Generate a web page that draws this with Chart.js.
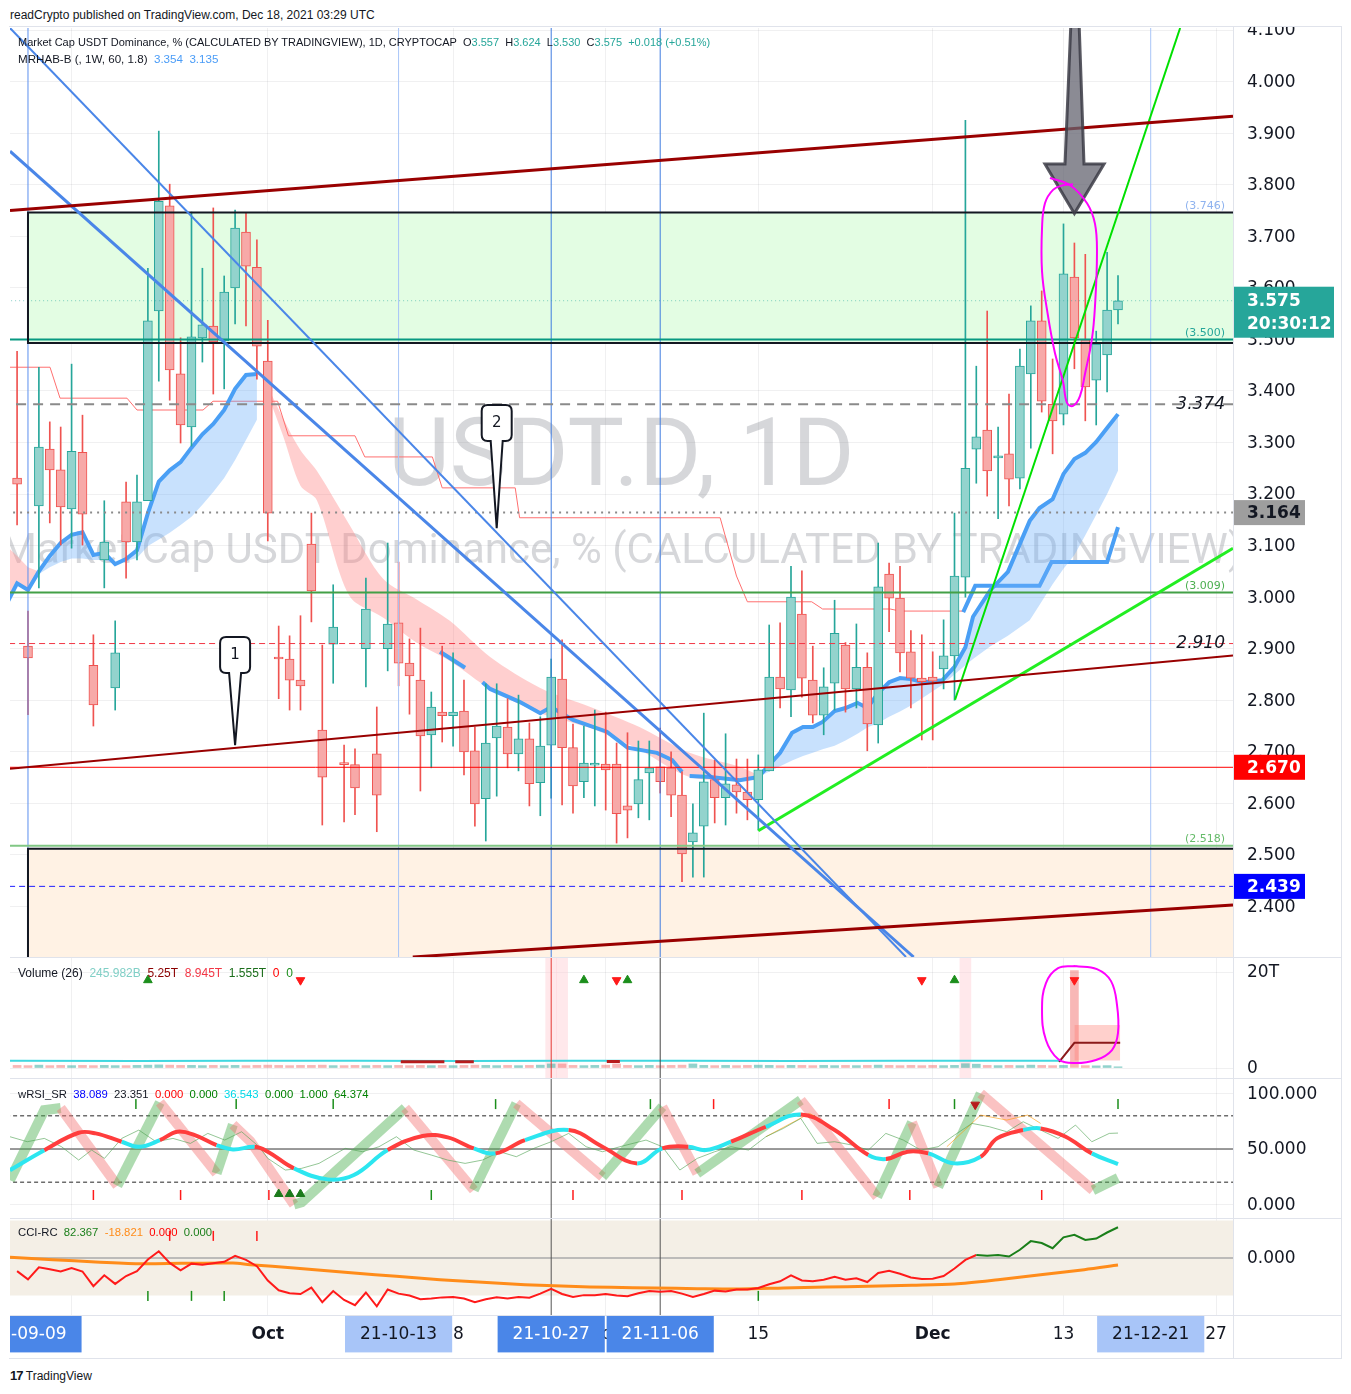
<!DOCTYPE html>
<html>
<head>
<meta charset="utf-8">
<title>USDT.D 1D</title>
<script src="https://cdn.jsdelivr.net/npm/chart.js@4.4.1/dist/chart.umd.min.js"></script>
<style>
html,body{margin:0;padding:0;background:#ffffff;}
body{width:1351px;height:1394px;position:relative;overflow:hidden;font-family:"Liberation Sans",Arial,sans-serif;color:#131722;}
canvas{position:absolute;left:10px;}
.t{position:absolute;white-space:nowrap;font-size:12px;line-height:14px;z-index:5;}
.sep{position:absolute;background:#e0e3eb;z-index:4;}
.g{color:#26a69a}.b{color:#4a9cf7}
</style>
</head>
<body>
<div class="t" style="left:10px;top:8px;">readCrypto published on TradingView.com, Dec 18, 2021 03:29 UTC</div>

<canvas id="cMain" width="1331" height="931" style="top:27px"></canvas>
<canvas id="cVol" width="1331" height="120" style="top:958px"></canvas>
<canvas id="cRsi" width="1331" height="140" style="top:1078px"></canvas>
<canvas id="cCci" width="1331" height="140" style="top:1218px"></canvas>

<div class="sep" style="left:9px;top:26px;width:1333px;height:1px"></div>
<div class="sep" style="left:1341px;top:26px;width:1px;height:1333px"></div>
<div class="sep" style="left:9px;top:1358px;width:1333px;height:1px"></div>
<div class="sep" style="left:1233px;top:27px;width:1px;height:1331px"></div>
<div class="sep" style="left:10px;top:957px;width:1331px;height:1px"></div>
<div class="sep" style="left:10px;top:1078px;width:1331px;height:1px"></div>
<div class="sep" style="left:10px;top:1218px;width:1331px;height:1px"></div>
<div class="sep" style="left:10px;top:1315px;width:1331px;height:1px"></div>

<div class="t" style="left:18px;top:35px;font-size:11px;">Market Cap USDT Dominance, % (CALCULATED BY TRADINGVIEW), 1D, CRYPTOCAP&nbsp;&nbsp;O<span class="g">3.557</span>&nbsp;&nbsp;H<span class="g">3.624</span>&nbsp;&nbsp;L<span class="g">3.530</span>&nbsp;&nbsp;C<span class="g">3.575</span>&nbsp;&nbsp;<span class="g">+0.018 (+0.51%)</span></div>
<div class="t" style="left:18px;top:52px;font-size:11.6px;">MRHAB-B (, 1W, 60, 1.8)&nbsp;&nbsp;<span class="b">3.354</span>&nbsp;&nbsp;<span class="b">3.135</span></div>
<div class="t" style="left:18px;top:966px;">Volume (26)&nbsp;&nbsp;<span style="color:#80cfc6">245.982B</span>&nbsp;&nbsp;<span style="color:#8b0000">5.25T</span>&nbsp;&nbsp;<span style="color:#f23645">8.945T</span>&nbsp;&nbsp;<span style="color:#1b6e1b">1.555T</span>&nbsp;&nbsp;<span style="color:#ff0000">0</span>&nbsp;&nbsp;<span style="color:#1b8e1b">0</span></div>
<div class="t" style="left:18px;top:1087px;font-size:11.3px;">wRSI_SR&nbsp;&nbsp;<span style="color:#0000ff">38.089</span>&nbsp;&nbsp;23.351&nbsp;&nbsp;<span style="color:#ff0000">0.000</span>&nbsp;&nbsp;<span style="color:#008000">0.000</span>&nbsp;&nbsp;<span style="color:#00d8e8">36.543</span>&nbsp;&nbsp;<span style="color:#008000">0.000</span>&nbsp;&nbsp;<span style="color:#008000">1.000</span>&nbsp;&nbsp;<span style="color:#008000">64.374</span></div>
<div class="t" style="left:18px;top:1225px;font-size:11.3px;">CCI-RC&nbsp;&nbsp;<span style="color:#1b7f1b">82.367</span>&nbsp;&nbsp;<span style="color:#ff8c1a">-18.821</span>&nbsp;&nbsp;<span style="color:#ff0000">0.000</span>&nbsp;&nbsp;<span style="color:#1b7f1b">0.000</span></div>
<div class="t" style="left:10px;top:1369px;"><b style="font-size:13px;letter-spacing:-1px">17</b>&nbsp;TradingView</div>

<script>
// ---------------- DATA ----------------
// x values are days counted from 2021-09-09 (day 0)
const X_MIN = -1.65, X_MAX = 110.55;
const FIRST_DAY = -1;               // first candle = 2021-09-08

const OPEN = [3.231,2.905,3.177,3.287,3.247,3.171,3.281,2.868,3.072,2.824,
  3.185,3.107,3.187,3.555,3.759,3.433,3.330,3.503,3.526,3.497,
  3.600,3.708,3.640,3.458,2.884,2.880,2.839,3.103,2.742,2.909,
  2.679,2.675,2.900,2.696,2.900,2.950,2.872,2.839,2.733,2.777,
  2.770,2.779,2.702,2.609,2.727,2.748,2.696,2.725,2.640,2.713,
  2.841,2.708,2.642,2.674,2.676,2.676,2.595,2.599,2.659,2.671,
  2.669,2.616,2.525,2.556,2.646,2.611,2.636,2.622,2.607,2.663,
  2.845,2.820,2.967,2.839,2.771,2.833,2.907,2.822,2.864,2.752,
  3.045,2.998,2.894,2.843,2.845,2.861,2.886,3.039,3.287,3.324,
  3.270,3.278,3.231,3.433,3.536,3.374,3.355,3.621,3.499,3.421,
  3.470,3.557];
const HIGH = [3.477,2.973,3.446,3.340,3.330,3.452,3.353,2.927,3.187,2.954,
  3.223,3.237,3.638,3.904,3.801,3.503,3.747,3.638,3.755,3.623,
  3.751,3.745,3.693,3.537,2.944,2.925,2.964,3.163,2.907,3.024,
  2.713,2.706,3.037,2.787,3.105,3.068,2.919,2.940,2.816,2.905,
  2.892,2.839,2.748,2.832,2.832,2.803,2.810,2.756,2.768,2.880,
  2.917,2.754,2.750,2.781,2.777,2.717,2.737,2.721,2.721,2.746,
  2.700,2.661,2.599,2.775,2.684,2.735,2.686,2.686,2.694,2.946,
  2.950,3.060,3.051,2.905,2.863,2.994,2.912,2.948,2.892,3.105,
  3.066,3.060,2.935,2.927,2.894,2.956,3.163,3.925,3.448,3.555,
  3.330,3.394,3.481,3.565,3.594,3.462,3.724,3.687,3.665,3.516,
  3.669,3.624];
const LOW = [3.140,2.772,3.018,3.144,3.101,3.095,3.101,2.750,3.018,2.781,
  3.037,3.072,3.187,3.419,3.382,3.299,3.293,3.456,3.394,3.404,
  3.530,3.526,3.423,3.109,2.803,2.781,2.781,2.952,2.558,2.833,
  2.564,2.578,2.826,2.545,2.857,2.828,2.773,2.624,2.669,2.719,
  2.711,2.655,2.556,2.527,2.614,2.669,2.663,2.595,2.576,2.610,
  2.597,2.581,2.611,2.595,2.587,2.523,2.533,2.572,2.568,2.620,
  2.574,2.448,2.457,2.457,2.562,2.558,2.581,2.568,2.548,2.663,
  2.785,2.768,2.806,2.756,2.733,2.781,2.777,2.785,2.702,2.717,
  2.933,2.855,2.785,2.723,2.723,2.822,2.800,3.000,3.221,3.196,
  3.152,3.177,3.210,3.289,3.359,3.278,3.334,3.443,3.342,3.334,
  3.398,3.530];
const CLOSE = [3.219,2.882,3.291,3.247,3.175,3.283,3.161,2.791,3.107,2.892,
  3.107,3.185,3.536,3.768,3.441,3.334,3.505,3.528,3.495,3.592,
  3.716,3.642,3.487,3.163,2.880,2.839,2.828,3.012,2.651,2.942,
  2.675,2.630,2.977,2.616,2.948,2.872,2.847,2.731,2.787,2.770,
  2.777,2.700,2.599,2.717,2.750,2.696,2.725,2.638,2.711,2.845,
  2.708,2.634,2.678,2.678,2.665,2.580,2.587,2.646,2.669,2.642,
  2.616,2.502,2.543,2.642,2.611,2.638,2.622,2.607,2.665,2.845,
  2.822,3.000,2.843,2.771,2.826,2.930,2.822,2.864,2.754,3.020,
  2.998,2.892,2.843,2.836,2.837,2.886,3.041,3.250,3.311,3.245,
  3.274,3.229,3.448,3.536,3.380,3.342,3.627,3.503,3.408,3.491,
  3.557,3.575];
// volume, trillions
const VOLUME = [0.55,0.5,0.6,0.5,0.55,0.5,0.55,0.5,0.55,0.5,
  0.5,0.55,0.6,0.65,0.6,0.55,0.55,0.5,0.55,0.5,
  0.55,0.5,0.55,0.6,0.55,0.5,0.55,0.55,0.6,0.5,
  0.5,0.55,0.5,0.55,0.5,0.55,0.5,0.55,0.5,0.55,
  0.5,0.55,0.6,0.55,0.5,0.55,0.5,0.55,0.6,0.85,
  0.85,0.55,0.5,0.55,0.6,0.85,0.55,0.5,0.55,0.5,
  0.55,0.6,0.85,0.55,0.5,0.55,0.5,0.55,0.6,0.55,
  0.5,0.55,0.55,0.5,0.55,0.5,0.55,0.5,0.55,0.6,
  0.55,0.5,0.55,0.5,0.55,0.5,0.55,0.9,0.8,0.55,
  0.5,0.55,0.5,0.6,0.55,0.5,0.55,20.3,0.5,0.45,
  0.5,0.25];

// price axis
const Y_MIN = 2.302, Y_MAX = 4.104;
const PRICE_TICKS = [2.4,2.5,2.6,2.7,2.8,2.9,3.0,3.1,3.2,3.3,3.4,3.5,3.6,3.7,3.8,3.9,4.0,4.1];

// time axis
const GRID_DAYS = [4, 22, 39, 53, 67, 83, 95, 109];
const GRID_LABELS = ['13', 'Oct', '18', 'Nov', '15', 'Dec', '13', '27'];
const MARK_DAYS = [0, 34, 48, 58, 103];
const MARK_LABELS = ['21-09-09', '21-10-13', '21-10-27', '21-11-06', '21-12-21'];

// rectangles (price bottom, top)
const BOX_START = 0;
const GREEN_BOX = [3.493, 3.746];
const PEACH_BOX = [2.20, 2.512];

// horizontal levels
const LEVEL_VALUES = [3.500, 3.374, 3.164, 3.009, 2.910, 2.670, 2.518, 2.439, 3.575];
const LABEL_VALUES = [3.746, 3.500, 3.374, 3.009, 2.910, 2.518];
const LABEL_TEXTS = ['(3.746)', '(3.500)', '3.374', '(3.009)', '2.910', '(2.518)'];

// trend lines [day0, price0, day1, price1]
const TRENDLINES = [
  [-1.65, 3.750, 110.55, 3.933],
  [-1.65, 2.667, 110.55, 2.887],
  [35.3, 2.302, 110.55, 2.403],
  [-1.65, 3.865, 81.25, 2.302],
  [-1.65, 4.104, 80.55, 2.302],
  [85.05, 2.801, 105.7, 4.104],
  [67, 2.547, 110.55, 3.095]
];
const VLINE_DAYS = [0, 34, 48, 58, 103];

// badges on price axis
const BADGE_VALUES = [3.575, 3.164, 2.670, 2.439];

// callouts
const CALLOUT_TEXTS = ['1', '2'];
const CALLOUT_DAYS = [19, 43];
const CALLOUT_PRICES = [2.888, 3.338];
const CALLOUT_TIPS = [2.713, 3.134];

// big arrow polygon and magenta loop
const ARROW_X = [95.69, 96.42, 96.88, 98.72, 96.0, 93.3, 95.14, 95.69];
const ARROW_Y = [4.12, 4.12, 3.840, 3.840, 3.744, 3.840, 3.840, 4.12];
const LOOP_X = [93.76,95.6,97.16,97.89,98.07,97.89,97.61,96.97,96.51,95.87,95.32,94.95,94.22,93.49,93.03,93.03,93.3,94.04,94.95,95.87];
const LOOP_Y = [3.813,3.799,3.764,3.724,3.667,3.565,3.501,3.433,3.390,3.371,3.377,3.419,3.473,3.557,3.632,3.716,3.764,3.790,3.799,3.801];

// MRHAB indicator
const MRHAB_A_X = [-2,-1,0,1,2,3,4,5,6,7,8,9,10,11,12,13,14,15,16,17,18,19,20,21];
const MRHAB_A_LINE = [2.985,3.027,3.014,3.050,3.080,3.105,3.121,3.126,3.082,3.086,3.064,3.074,3.091,3.163,3.224,3.246,3.262,3.290,3.316,3.336,3.363,3.404,3.431,3.433];
const MRHAB_A_LOW = [2.985,3.027,3.014,3.045,3.058,3.068,3.075,3.075,3.072,3.072,3.064,3.070,3.076,3.099,3.112,3.125,3.140,3.156,3.179,3.204,3.231,3.266,3.305,3.344];
const PINK_L_X = [-2, -1, 0, 1];
const PINK_L_TOP = [3.10, 3.08, 3.058, 3.050];
const PINK_L_BOT = [2.985, 3.027, 3.014, 3.050];
const PINK_B_X = [21.5,23.4,25,26.5,29.5,32.6,35.7,38.7,42.4,47,51.6,56.1,60.7,65.3,67];
const PINK_B_TOP = [3.431,3.347,3.285,3.245,3.140,3.035,2.995,2.954,2.884,2.824,2.787,2.748,2.698,2.671,2.655];
const PINK_B_BOT = [3.421,3.313,3.216,3.188,3.002,2.960,2.911,2.876,2.822,2.775,2.746,2.704,2.651,2.645,2.645];
const BLUE_B_X = [37.8,40.1,41,41.7,42.4,45.1,47,48,50,53.1,55,57.7,59.1,60,60.4,60.7,62.6,65.3,67];
const BLUE_B_Y = [2.894,2.863,null,2.835,2.822,2.797,2.775,2.787,2.762,2.739,2.708,2.698,2.684,2.661,null,2.653,2.651,2.645,2.651];
const BLUE_C_X = [67,69,70.1,71.1,72,72.9,74,75,76.1,77,78,79,80,81,82.1,83.9,85,86,86.7,88.3,89.9,91.9,92.8,94,95,96,97,98,99,100];
const BLUE_C_LINE = [2.651,2.698,2.737,2.748,2.748,2.758,2.779,2.785,2.795,2.785,2.814,2.835,2.843,2.841,2.835,2.839,2.865,2.903,2.962,3.014,3.049,3.148,3.173,3.190,3.239,3.268,3.280,3.301,3.328,3.355];
const BLUE_C_LOW = [2.651,2.672,2.683,2.692,2.698,2.705,2.712,2.722,2.735,2.747,2.756,2.768,2.778,2.790,2.805,2.830,2.850,2.868,2.880,2.905,2.925,2.955,2.985,3.025,3.055,3.082,3.120,3.160,3.200,3.245];
const STEP_X = [85.8, 86.9, 92.8, 93.9, 99, 100];
const STEP_Y = [2.971, 3.022, 3.022, 3.068, 3.068, 3.136];
const RED_STEP_X = [-1.65,2.02,2.94,9.08,10,16.06,16.97,22.9,23.9,30,30.9,37.1,38,44.7,45.1,63.5,65,66,71.9,72.9,79.1,80,85.8];
const RED_STEP_Y = [3.446,3.446,3.386,3.386,3.363,3.363,3.380,3.380,3.313,3.313,3.272,3.272,3.212,3.212,3.154,3.154,3.041,2.991,2.991,2.977,2.977,2.973,2.973];

// volume panel extras
const VOL_MIN = -2.08, VOL_MAX = 22.92;
const VOL_TICKS = [0, 20];
const VOL_BAND_DAYS = [48, 49, 86];
const VOL_MA_X = [-1.65, 10, 20, 30, 40, 50, 60, 70, 80, 90, 94.6];
const VOL_MA_Y = [1.5, 1.45, 1.5, 1.5, 1.45, 1.5, 1.5, 1.45, 1.5, 1.5, 1.5];
const VOL_BITS_X = [34.2, 38.2, 38.7, 39.2, 40.9, 47, 53.1, 54.3];
const VOL_BITS_Y = [1.3, 1.3, null, 1.3, 1.3, null, 1.35, 1.35];
const VOL_RECT = [96, 100.2, 1.555, 8.945];
const VOL_LEVEL_X = [94.6, 96, 100.2];
const VOL_LEVEL_Y = [1.3, 5.25, 5.25];
const VOL_UP_DAYS = [11, 51, 55, 85];
const VOL_DOWN_DAYS = [25, 54, 82, 96];
const VOL_MARK_Y = 18.3;
const VLOOP_X = [96.06,98.07,99.36,99.91,100.0,99.45,97.98,95.96,94.5,93.39,93.03,93.39,94.5,96.06];
const VLOOP_Y = [21.25,20.6,18.1,13.1,7.3,3.75,1.67,1.04,1.88,5.83,12.1,17.7,20.8,21.25];

// wRSI panel
const RSI_TICKS = [0, 50, 100];
const RSI_X = [-1.65,1.5,4.65,6.2,8.6,10.2,12.1,13.7,15.3,17.3,18.8,20.8,22,24.4,27.5,29.9,33,36.2,38.5,40.9,42.9,45.6,49.6,52.7,55.9,58.2,60.6,62.2,64.5,67.7,70.9,74,77.1,78.7,80.7,82.6,85,87.4,88.9,91.3,92.9,95.2,97.6,100];
const RSI_Y = [31,49,64.7,64.1,56.6,52,58,65.6,62.6,53.6,49.7,52,47.6,32.6,22.7,26.6,49.1,61.7,60.5,50.6,46.1,58.1,67.1,52.1,37.1,50.6,52.1,49.1,56.6,70.1,81.2,67.1,44.6,41,47.6,46.1,37.1,43.1,59.6,67.1,68.6,61.1,46.1,36.5];
const RSI_SEG = 'crrrccrrrccrrcccrrrcrcrrcrccrcrrcrrccrrcrrc';
const RIB_X = [-1.65,1.5,3,8.2,12.1,17.3,18.8,20.4,24.4,25.1,34.6,40.9,44.8,52.7,58.2,61.4,70.9,77.9,81.1,83.5,87.4,97.7,100];
const RIB_Y = [22,85,87,17,92,28,72,57,0,2,87,13,91,25,88,28,94,7,74,16,100,13,24];
const THIN_X = [-1.65,-0.07,1.5,3.08,4.65,5.84,7.02,8.6,10.17,11.75,13.3,14.9,16.5,18.05,19.6,21.2,22,23.6,25.1,26.7,29.1,30.7,32.2,33.8,35.4,37,38.5,40.1,41.7,43.3,44.8,46.4,48,49.6,51.2,52.7,54.3,56.7,58.2,59.8,61.4,63,64.5,66.1,67.7,69.3,70.9,72.4,74,75.6,77.1,78.7,80.3,81.9,83.5,85,86.6,88.2,89.8,91.3,92.9,94.5,96.1,97.6,99.2,100];
const THIN_Y = [61.1,56.6,59.6,52.1,40.1,49.1,41.6,59.6,67.1,56.6,59.6,55.1,64.1,58.1,65.6,52.1,41.6,31.1,32.6,37.1,50.6,47.6,52.1,61.1,49.1,44.6,40.1,37.1,40.1,47.6,43.1,50.6,56.6,64.1,52.1,47.6,52.1,58.1,52.1,31.1,41.6,47.6,52.1,49.1,61.1,68.6,77.6,55.1,56.6,53.6,49.1,64.1,58.1,49.1,52.1,62.6,73.1,70.1,65.6,74.6,67.1,59.6,71.6,56.6,64.1,64.4];
const ORANGE_X = [67.7, 71.7, 72.8, 78, 84.3, 87.4, 89.8, 91.7, 92.9];
const ORANGE_Y = [61.1, 82.1, 76.1, null, 52.1, 80.6, 76.1, 80.6, 73.1];
const RSI_LEVELS = [80, 20, 50];
const RSI_TOP_GREEN = [9.9, 19.1, 28, 42.9, 57.1, 85, 100];
const RSI_TOP_RED = [62.9, 79];
const RSI_BOT_RED = [6, 14, 22.1, 50, 60, 71, 80.9, 93];
const RSI_BOT_GREEN = [37];
const RSI_UP_TRI = [23, 24, 25];
const RSI_DOWN_TRI = [86.9];

// CCI panel
const CCI = [-35,-57,-25,-30,-36,-27,-36,-75,-46,-69,
  -48,-35,-4,18,-13,-33,-15,-18,-14,-10,
  6,-5,-22,-60,-86,-94,-96,-79,-118,-88,
  -112,-126,-92,-129,-84,-95,-100,-110,-108,-105,
  -104,-108,-118,-110,-105,-108,-104,-106,-95,-82,
  -96,-104,-99,-99,-96,-100,-102,-94,-88,-90,
  -88,-95,-104,-96,-87,-89,-84,-84,-80,-70,
  -62,-46,-60,-62,-58,-50,-58,-54,-64,-40,
  -34,-42,-52,-56,-55,-48,-28,-5,8,6,
  8,4,22,45,40,26,55,62,48,52,
  68,82];
const CCI_MA_X = [-1.65,2.3,6.2,10.2,14.1,18.8,20.4,24.4,29.9,33.8,37.8,41.7,45.6,49.6,53.5,57.5,61.4,65.3,69.3,73.2,77.1,81.1,85,89,92.9,96.9,100];
const CCI_MA_Y = [1.8,-4.4,-10.6,-15.1,-14.2,-13.3,-17.8,-26.6,-40,-48.9,-57.8,-64.9,-71.1,-75.5,-78.2,-80,-81.8,-82.7,-80,-77.3,-75.5,-72.9,-69.3,-57.8,-44.4,-31.1,-18.8];
const CCI_BAND = [-100, 100];
const CCI_GREEN_MARKS = [11, 15, 18, 67];
const CCI_RED_MARKS = [13, 17, 21];

// ---------------- HELPERS ----------------
Chart.defaults.font.family = "'DejaVu Sans', sans-serif";
Chart.defaults.color = '#131722';
const FAINT = 'rgba(42,46,57,0.07)';
const NONE = 'rgba(0,0,0,0)';
const pts = (xs, ys) => xs.map((x, i) => ({x: x, y: ys[i]}));
const L = (data, color, width, order, extra) => Object.assign({
  type: 'line', data: data, borderColor: color, borderWidth: width, pointRadius: 0,
  fill: false, tension: 0, order: order, spanGaps: false
}, extra || {});
const marks = (days, yv, color, order) => L(days.map(d => ({x: d, y: yv})), color, 0, order, {
  showLine: false, pointStyle: 'line', rotation: 90, pointRadius: 5,
  pointBorderColor: color, pointBorderWidth: 1.5
});
const tris = (days, yv, color, down, order) => L(days.map(d => ({x: d, y: yv})), color, 0, order, {
  showLine: false, pointStyle: 'triangle', rotation: down ? 180 : 0, pointRadius: 5,
  pointBackgroundColor: color, pointBorderColor: color, pointBorderWidth: 1
});
const vline = (day, lo, hi, color, w, order) => L([{x: day, y: lo}, {x: day, y: hi}], color, w, order);
const up = CLOSE.map((c, i) => c >= OPEN[i]);

const XTICK_DAYS = GRID_DAYS.concat(MARK_DAYS);
const XTICK_LABELS = GRID_LABELS.concat(MARK_LABELS);
const MARK_BG = ['#4a86e8', '#a8c5f8', '#4a86e8', '#4a86e8', '#a8c5f8'];
const MARK_FG = ['#ffffff', '#131722', '#ffffff', '#ffffff', '#131722'];

function xAxis(withLabels) {
  const nG = GRID_DAYS.length;
  return {
    type: 'linear', min: X_MIN, max: X_MAX, offset: false, bounds: 'data',
    border: {display: false},
    grid: {drawTicks: false, offset: false, color: c => (c.index < nG ? FAINT : NONE)},
    ticks: withLabels ? {
      autoSkip: false, maxRotation: 0, minRotation: 0, padding: 9,
      callback: (v, i) => XTICK_LABELS[i],
      font: c => ({size: 17, weight: (c.index === 1 || c.index === 5) ? 'bold' : 'normal'}),
      color: c => (c.index >= nG ? MARK_FG[c.index - nG] : '#131722'),
      showLabelBackdrop: c => c.index >= nG,
      backdropColor: c => (c.index >= nG ? MARK_BG[c.index - nG] : NONE),
      backdropPadding: {top: 8, bottom: 8, left: 15, right: 15}
    } : {display: false},
    afterBuildTicks: s => { s.ticks = (withLabels ? XTICK_DAYS : GRID_DAYS).map(v => ({value: v})); },
    afterFit: s => { s.paddingLeft = 0; s.paddingRight = 0; s.height = withLabels ? 43 : 0; }
  };
}
function yAxis(ticksArr, fmt, min, max) {
  return {
    type: 'linear', position: 'right', min: min, max: max, bounds: 'data',
    border: {display: false},
    grid: {drawTicks: false, color: FAINT},
    ticks: {padding: 14, labelOffset: 1, autoSkip: false, color: '#131722', font: {size: 17}, callback: (v, i) => fmt(v, i)},
    afterBuildTicks: s => { s.ticks = ticksArr.map(v => ({value: v})); },
    afterFit: s => { s.width = 108; s.paddingTop = 0; s.paddingBottom = 0; }
  };
}
const baseOpts = (pad) => ({
  responsive: false, animation: false, events: [], devicePixelRatio: 1,
  layout: {padding: pad, autoPadding: false},
  plugins: {legend: {display: false}, tooltip: {enabled: false}}
});

// ---------------- PLUGINS (main) ----------------
const watermark = {
  id: 'watermark',
  beforeDatasetsDraw(chart) {
    const {ctx, chartArea: a} = chart;
    ctx.save();
    ctx.beginPath(); ctx.rect(a.left, a.top, a.right - a.left, a.bottom - a.top); ctx.clip();
    ctx.fillStyle = 'rgba(120,123,134,0.30)';
    ctx.textAlign = 'center'; ctx.textBaseline = 'alphabetic';
    const cx = (a.left + a.right) / 2;
    ctx.font = '95px Roboto';
    ctx.fillText('USDT.D, 1D', cx, 458);
    ctx.font = '42px Roboto';
    ctx.fillText('Market Cap USDT Dominance, % (CALCULATED BY TRADINGVIEW)', cx, 536);
    ctx.restore();
  }
};
const LABEL_STYLES = [
  {f: '11px "DejaVu Sans"', c: '#8fb3ef', above: true},
  {f: '11px "DejaVu Sans"', c: '#26a69a', above: true},
  {f: 'italic 17px "DejaVu Sans"', c: '#131722', above: false},
  {f: '11px "DejaVu Sans"', c: '#4caf50', above: true},
  {f: 'italic 17px "DejaVu Sans"', c: '#131722', above: false},
  {f: '11px "DejaVu Sans"', c: '#66bb6a', above: true}
];
const levelLabels = {
  id: 'levelLabels',
  afterDatasetsDraw(chart) {
    const {ctx, chartArea: a} = chart; const ys = chart.scales.y;
    ctx.save();
    LABEL_VALUES.forEach((v, i) => {
      const st = LABEL_STYLES[i]; const y = ys.getPixelForValue(v);
      ctx.font = st.f; ctx.fillStyle = st.c; ctx.textAlign = 'right';
      ctx.textBaseline = st.above ? 'bottom' : 'middle';
      ctx.fillText(LABEL_TEXTS[i], a.right - 8, st.above ? y - 1 : y);
    });
    ctx.restore();
  }
};
const callouts = {
  id: 'callouts',
  afterDatasetsDraw(chart) {
    const {ctx} = chart; const xs = chart.scales.x, ys = chart.scales.y;
    ctx.save();
    CALLOUT_TEXTS.forEach((t, i) => {
      const x = xs.getPixelForValue(CALLOUT_DAYS[i]);
      const yc = ys.getPixelForValue(CALLOUT_PRICES[i]);
      const yt = ys.getPixelForValue(CALLOUT_TIPS[i]);
      const w = 30, h = 36, l = x - w / 2, tp = yc - h / 2, b = yc + h / 2, r = 6;
      ctx.beginPath();
      ctx.moveTo(l + r, tp); ctx.lineTo(l + w - r, tp); ctx.quadraticCurveTo(l + w, tp, l + w, tp + r);
      ctx.lineTo(l + w, b - r); ctx.quadraticCurveTo(l + w, b, l + w - r, b);
      ctx.lineTo(x + 6, b); ctx.lineTo(x, yt); ctx.lineTo(x - 6, b);
      ctx.lineTo(l + r, b); ctx.quadraticCurveTo(l, b, l, b - r);
      ctx.lineTo(l, tp + r); ctx.quadraticCurveTo(l, tp, l + r, tp); ctx.closePath();
      ctx.fillStyle = '#ffffff'; ctx.fill();
      ctx.strokeStyle = '#131722'; ctx.lineWidth = 2; ctx.stroke();
      ctx.fillStyle = '#131722'; ctx.font = '15px "DejaVu Sans"';
      ctx.textAlign = 'center'; ctx.textBaseline = 'middle';
      ctx.fillText(t, x, yc);
    });
    ctx.restore();
  }
};
const BADGE_STYLES = [
  {bg: '#26a69a', fg: '#ffffff', w: 101, sub: '20:30:12'},
  {bg: '#9e9e9e', fg: '#131722', w: 72},
  {bg: '#ff0000', fg: '#ffffff', w: 72},
  {bg: '#0000ff', fg: '#ffffff', w: 72}
];
const badges = {
  id: 'badges',
  afterDraw(chart) {
    const {ctx, chartArea: a} = chart; const ys = chart.scales.y;
    ctx.save();
    BADGE_VALUES.forEach((v, i) => {
      const st = BADGE_STYLES[i]; const y = ys.getPixelForValue(v);
      const top = st.sub ? y - 14 : y - 12.5, h = st.sub ? 51 : 25;
      ctx.fillStyle = st.bg; ctx.fillRect(a.right, top, st.w, h);
      ctx.fillStyle = st.fg; ctx.font = 'bold 17px "DejaVu Sans"';
      ctx.textAlign = 'left'; ctx.textBaseline = 'middle';
      ctx.fillText(v.toFixed(3), a.right + 14, y + 1);
      if (st.sub) ctx.fillText(st.sub, a.right + 14, y + 24);
    });
    ctx.restore();
  }
};

// ---------------- MAIN CHART ----------------
const LEVEL_STYLES = [
  {c: '#089981', w: 2},
  {c: '#8a8a8a', w: 2, d: [10, 7]},
  {c: '#8a8a8a', w: 2, d: [2, 5]},
  {c: '#43a047', w: 2},
  {c: '#f23645', w: 1, d: [6, 4]},
  {c: '#ff0000', w: 1},
  {c: '#81c784', w: 2},
  {c: '#1e1eff', w: 1, d: [6, 4]},
  {c: 'rgba(38,166,154,0.55)', w: 1, d: [1, 3]}
];
const TREND_STYLES = [
  {c: '#990000', w: 3}, {c: '#990000', w: 2}, {c: '#990000', w: 3},
  {c: '#4a86e8', w: 3}, {c: '#4a86e8', w: 2},
  {c: '#00e000', w: 2}, {c: '#22ee22', w: 3}
];
const VLINE_COLORS = ['#5b8fee', '#a8c5f8', '#3f7be0', '#3f7be0', '#a8c5f8'];

const mainDs = [];
mainDs.push(L([{x: BOX_START, y: GREEN_BOX[1]}, {x: X_MAX + 2, y: GREEN_BOX[1]}], NONE, 0, 100, {fill: {value: GREEN_BOX[0]}, backgroundColor: '#e3fde3'}));
mainDs.push(L([{x: BOX_START, y: PEACH_BOX[1]}, {x: X_MAX + 2, y: PEACH_BOX[1]}], NONE, 0, 100, {fill: {value: PEACH_BOX[0]}, backgroundColor: '#fff2e4'}));
// indicator bands
mainDs.push(L(pts(PINK_L_X, PINK_L_TOP), NONE, 0, 92, {fill: '+1', backgroundColor: 'rgba(255,140,140,0.4)'}));
mainDs.push(L(pts(PINK_L_X, PINK_L_BOT), NONE, 0, 92));
mainDs.push(L(pts(PINK_B_X, PINK_B_TOP), NONE, 0, 91, {fill: '+1', backgroundColor: 'rgba(255,130,130,0.38)', tension: 0.3}));
mainDs.push(L(pts(PINK_B_X, PINK_B_BOT), NONE, 0, 91, {tension: 0.3}));
mainDs.push(L(pts(MRHAB_A_X, MRHAB_A_LINE), '#4a9ff5', 4, 80, {fill: '+1', backgroundColor: 'rgba(110,175,250,0.38)'}));
mainDs.push(L(pts(MRHAB_A_X, MRHAB_A_LOW), NONE, 0, 90));
mainDs.push(L(pts(BLUE_C_X, BLUE_C_LINE), '#4a9ff5', 4, 80, {fill: '+1', backgroundColor: 'rgba(110,175,250,0.38)'}));
mainDs.push(L(pts(BLUE_C_X, BLUE_C_LOW), NONE, 0, 90));
mainDs.push(L(pts(BLUE_B_X, BLUE_B_Y), '#4a9ff5', 4, 80));
mainDs.push(L(pts(STEP_X, STEP_Y), '#4a9ff5', 4, 80));
mainDs.push(L(pts(RED_STEP_X, RED_STEP_Y), '#ff6f6f', 1, 81));
// candles
mainDs.push({type: 'bar', data: OPEN.map((o, i) => ({x: FIRST_DAY + i, y: [LOW[i], HIGH[i]]})),
  backgroundColor: up.map(u => (u ? '#26a69a' : '#ef5350')), barThickness: 1, grouped: false, order: 30});
mainDs.push({type: 'bar', data: OPEN.map((o, i) => ({x: FIRST_DAY + i, y: [Math.min(o, CLOSE[i]), Math.max(o, CLOSE[i])]})),
  backgroundColor: up.map(u => (u ? '#93d3cd' : '#f7a9a8')), borderColor: up.map(u => (u ? '#26a69a' : '#ef5350')),
  borderWidth: 1, borderSkipped: false, barThickness: 9, grouped: false, order: 20});
// drawings
LEVEL_VALUES.forEach((v, i) => {
  const st = LEVEL_STYLES[i];
  mainDs.push(L([{x: X_MIN - 1, y: v}, {x: X_MAX + 2, y: v}], st.c, st.w, 12, {borderDash: st.d || []}));
});
mainDs.push(L([{x: X_MAX + 2, y: GREEN_BOX[1]}, {x: BOX_START, y: GREEN_BOX[1]}, {x: BOX_START, y: GREEN_BOX[0]}, {x: X_MAX + 2, y: GREEN_BOX[0]}], '#131722', 2, 11));
mainDs.push(L([{x: X_MAX + 2, y: PEACH_BOX[1]}, {x: BOX_START, y: PEACH_BOX[1]}, {x: BOX_START, y: PEACH_BOX[0]}], '#131722', 2, 11));
VLINE_DAYS.forEach((d, i) => mainDs.push(vline(d, Y_MIN - 1, Y_MAX + 1, VLINE_COLORS[i], 1, 13)));
TRENDLINES.forEach((t, i) => mainDs.push(L([{x: t[0], y: t[1]}, {x: t[2], y: t[3]}], TREND_STYLES[i].c, TREND_STYLES[i].w, 10)));
mainDs.push(L(pts(ARROW_X, ARROW_Y), 'rgba(60,60,70,0.85)', 3, 5, {fill: 'shape', backgroundColor: 'rgba(100,100,112,0.75)'}));
mainDs.push(L(pts(LOOP_X, LOOP_Y), '#ff00ff', 2, 4, {tension: 0.4}));

new Chart(document.getElementById('cMain'), {
  type: 'bar',
  data: {datasets: mainDs},
  options: Object.assign(baseOpts({top: 1, bottom: 1, left: 0, right: 0}), {
    scales: {x: xAxis(false), y: yAxis(PRICE_TICKS, v => v.toFixed(3), Y_MIN, Y_MAX)}
  }),
  plugins: [watermark, levelLabels, callouts, badges]
});

// ---------------- VOLUME ----------------
const volDs = [];
volDs.push({type: 'bar', data: VOL_BAND_DAYS.map(d => ({x: d, y: [VOL_MIN, VOL_MAX]})), backgroundColor: 'rgba(255,205,210,0.45)', barThickness: 11, grouped: false, order: 60});
volDs.push({type: 'bar', data: VOLUME.map((v, i) => ({x: FIRST_DAY + i, y: v})),
  backgroundColor: up.map(u => (u ? 'rgba(38,166,154,0.5)' : 'rgba(239,83,80,0.42)')), barThickness: 8, grouped: false, order: 40});
volDs.push(L([{x: VOL_RECT[0], y: VOL_RECT[3]}, {x: VOL_RECT[1], y: VOL_RECT[3]}], NONE, 0, 35, {fill: {value: VOL_RECT[2]}, backgroundColor: 'rgba(255,120,110,0.35)'}));
volDs.push(L(pts(VOL_MA_X, VOL_MA_Y), '#40d8e0', 2, 25));
volDs.push(L(pts(VOL_BITS_X, VOL_BITS_Y), '#b71c1c', 3, 24));
volDs.push(L(pts(VOL_LEVEL_X, VOL_LEVEL_Y), '#8b1a1a', 2, 20));
volDs.push(vline(48, VOL_MIN, VOL_MAX, '#e53935', 1, 22));
volDs.push(vline(58, VOL_MIN, VOL_MAX, '#444444', 1, 22));
volDs.push(tris(VOL_UP_DAYS, VOL_MARK_Y, '#1b8e1b', false, 10));
volDs.push(tris(VOL_DOWN_DAYS, VOL_MARK_Y, '#ff1a1a', true, 10));
volDs.push(L(pts(VLOOP_X, VLOOP_Y), '#ff00ff', 2, 5, {tension: 0.4}));
new Chart(document.getElementById('cVol'), {
  type: 'bar',
  data: {datasets: volDs},
  options: Object.assign(baseOpts({top: 0, bottom: 0, left: 0, right: 0}), {
    scales: {x: xAxis(false), y: yAxis(VOL_TICKS, v => (v === 0 ? '0' : v + 'T'), VOL_MIN, VOL_MAX)}
  })
});

// ---------------- wRSI ----------------
const rsiDs = [];
rsiDs.push(L([{x: X_MIN - 1, y: RSI_LEVELS[0]}, {x: X_MAX + 1, y: RSI_LEVELS[0]}], '#6d6d6d', 1.5, 50, {borderDash: [4, 3]}));
rsiDs.push(L([{x: X_MIN - 1, y: RSI_LEVELS[1]}, {x: X_MAX + 1, y: RSI_LEVELS[1]}], '#6d6d6d', 1.5, 50, {borderDash: [4, 3]}));
rsiDs.push(L([{x: X_MIN - 1, y: RSI_LEVELS[2]}, {x: X_MAX + 1, y: RSI_LEVELS[2]}], '#7a7a7a', 1.5, 50));
rsiDs.push(vline(48, -20, 120, '#555555', 1, 49));
rsiDs.push(vline(58, -20, 120, '#555555', 1, 49));
rsiDs.push(L(pts(RIB_X, RIB_Y), 'rgba(76,175,80,0.45)', 10, 40, {borderCapStyle: 'butt',
  segment: {borderColor: c => (c.p1.parsed.y >= c.p0.parsed.y ? 'rgba(76,175,80,0.45)' : 'rgba(244,120,120,0.45)')}}));
rsiDs.push(L(pts(THIN_X, THIN_Y), 'rgba(76,160,80,0.6)', 1, 30));
rsiDs.push(L(pts(ORANGE_X, ORANGE_Y), 'rgba(255,152,0,0.6)', 1, 30));
rsiDs.push(L(pts(RSI_X, RSI_Y), '#ff3d3d', 4, 10, {tension: 0.4,
  segment: {borderColor: c => (RSI_SEG[c.p0DataIndex] === 'r' ? '#ff3d3d' : '#2ce6f0')}}));
rsiDs.push(marks(RSI_TOP_GREEN, 90.5, '#1b8e1b', 5));
rsiDs.push(marks(RSI_TOP_RED, 90.5, '#ff1a1a', 5));
rsiDs.push(marks(RSI_BOT_RED, 8.6, '#ff1a1a', 5));
rsiDs.push(marks(RSI_BOT_GREEN, 8.6, '#1b8e1b', 5));
rsiDs.push(tris(RSI_UP_TRI, 9.5, '#1b7a1b', false, 4));
rsiDs.push(tris(RSI_DOWN_TRI, 90, '#b71c1c', true, 4));
new Chart(document.getElementById('cRsi'), {
  type: 'line',
  data: {datasets: rsiDs},
  options: Object.assign(baseOpts({top: 0, bottom: 0, left: 0, right: 0}), {
    scales: {x: xAxis(false), y: yAxis(RSI_TICKS, v => v.toFixed(3), -12.1, 114)}
  })
});

// ---------------- CCI ----------------
const cciDs = [];
cciDs.push(L([{x: X_MIN - 1, y: CCI_BAND[1]}, {x: X_MAX + 1, y: CCI_BAND[1]}], NONE, 0, 100, {fill: {value: CCI_BAND[0]}, backgroundColor: '#f4efe6'}));
cciDs.push(L([{x: X_MIN - 1, y: 0}, {x: X_MAX + 1, y: 0}], '#aaaaaa', 1.5, 50));
cciDs.push(vline(48, -200, 200, '#555555', 1, 49));
cciDs.push(vline(58, -200, 200, '#555555', 1, 49));
cciDs.push(L(pts(CCI_MA_X, CCI_MA_Y), '#ff8c1a', 3, 20, {tension: 0.3}));
cciDs.push(L(CCI.map((v, i) => ({x: FIRST_DAY + i, y: v})), '#ff1a1a', 2, 10,
  {segment: {borderColor: c => ((c.p0.parsed.y >= 0 && c.p1.parsed.y >= 0) ? '#1a7f1a' : '#ff1a1a')}}));
cciDs.push(marks(CCI_GREEN_MARKS, -101, '#1b8e1b', 5));
cciDs.push(marks(CCI_RED_MARKS, 59, '#ff1a1a', 5));
new Chart(document.getElementById('cCci'), {
  type: 'line',
  data: {datasets: cciDs},
  options: Object.assign(baseOpts({top: 0, bottom: 0, left: 0, right: 0}), {
    scales: {x: xAxis(true), y: yAxis([0], v => v.toFixed(3), -152, 106.7)}
  })
});
</script>
</body>
</html>
